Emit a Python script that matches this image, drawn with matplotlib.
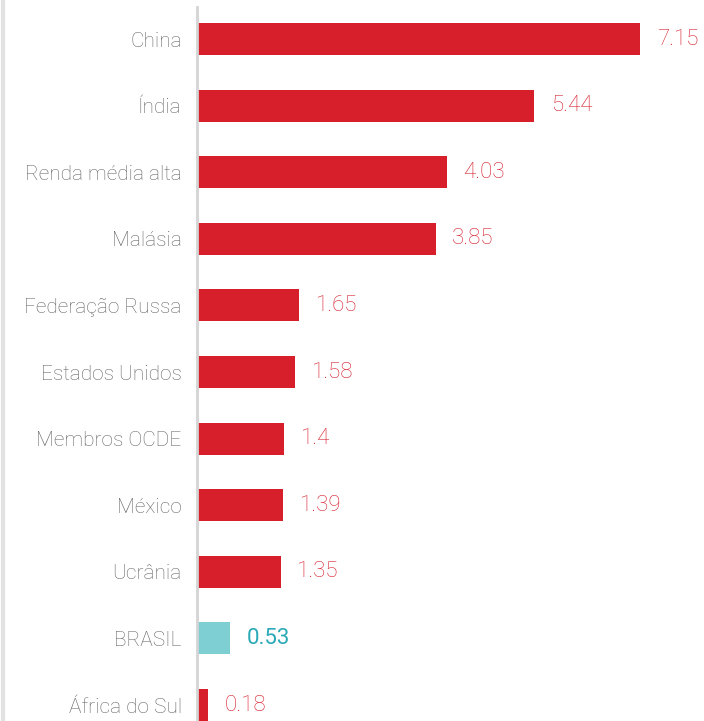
import matplotlib.pyplot as plt
from matplotlib.lines import Line2D

# data
labels = ['China', 'Índia', 'Renda média alta', 'Malásia', 'Federação Russa',
          'Estados Unidos', 'Membros OCDE', 'México', 'Ucrânia', 'BRASIL',
          'África do Sul']
values = [7.15, 5.44, 4.03, 3.85, 1.65, 1.58, 1.4, 1.39, 1.35, 0.53, 0.18]
value_text = ['7.15', '5.44', '4.03', '3.85', '1.65', '1.58', '1.4', '1.39',
              '1.35', '0.53', '0.18']
highlight = 'BRASIL'

red = '#d71f2c'
teal_bar = '#7dcfd3'
teal_text = '#2aa9b6'

plt.rcParams['font.family'] = ['Roboto', 'DejaVu Sans']

fig = plt.figure(figsize=(7.04, 7.21), dpi=100)
ax = fig.add_axes([197 / 704, 0, 1 - 197 / 704, 1])

pos = list(range(len(labels)))
colors = [teal_bar if l == highlight else red for l in labels]
ax.barh(pos, values, height=0.48, color=colors)

for p, v, t, l in zip(pos, values, value_text, labels):
    if l == highlight:
        ax.text(v + 0.27, p, t, va='center', ha='left', fontsize=16,
                color=teal_text, fontweight='normal')
    else:
        ax.text(v + 0.27, p, t, va='center', ha='left', fontsize=16,
                color=red, fontweight='light')

ax.set_xlim(0, 8.18)
ax.set_ylim(10.24, -0.586)
ax.set_yticks(pos)
ax.set_yticklabels(labels, fontsize=15, color='#666666', fontweight='light')
ax.tick_params(axis='y', length=0, pad=11)
ax.set_xticks([])
for s in ['top', 'right', 'bottom']:
    ax.spines[s].set_visible(False)
ax.spines['left'].set_color('#d4d4d4')
ax.spines['left'].set_linewidth(2)
ax.spines['left'].set_bounds(-0.48, 10.24)

# light frame line at the left edge
fig.add_artist(Line2D([3 / 704, 3 / 704], [0, 1], color='#e2e2e2', lw=3,
                      transform=fig.transFigure))

fig.savefig('out.png', dpi=100)
